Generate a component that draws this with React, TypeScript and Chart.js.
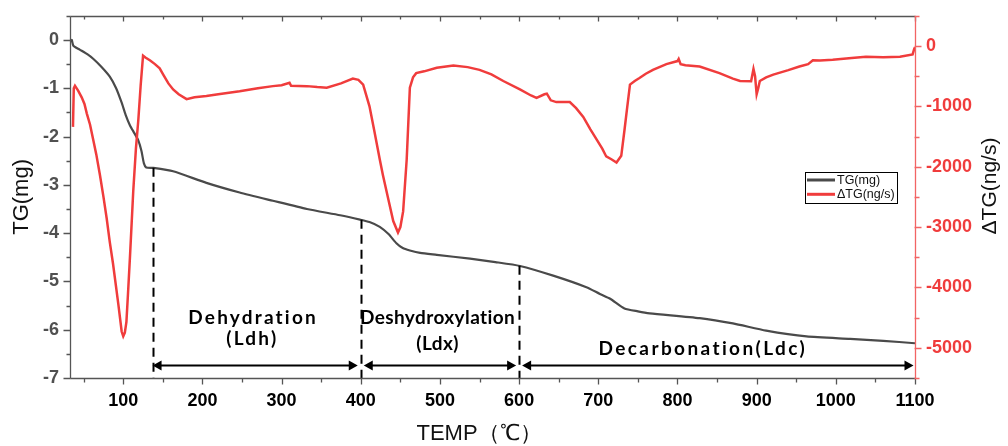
import React, { useEffect, useRef } from "react";
import { Chart, registerables } from "chart.js";

Chart.register(...registerables);

// ---------- data ----------
const tgTemp = [34, 35, 37, 45, 55, 62, 72, 83, 91, 98, 103, 108.5, 114, 119, 123, 126, 129, 138, 163, 205, 247, 289, 332, 374, 399, 411, 424, 435, 445, 453, 462, 475, 496, 538, 570, 601, 643, 685, 702, 715, 733, 750, 765, 828, 870, 912, 963, 1018, 1060, 1100];
const tgMass = [-0.05, 0.0, -0.12, -0.2, -0.3, -0.39, -0.55, -0.76, -1.0, -1.3, -1.55, -1.77, -1.93, -2.08, -2.3, -2.55, -2.64, -2.65, -2.72, -2.96, -3.16, -3.33, -3.5, -3.63, -3.72, -3.77, -3.87, -4.02, -4.21, -4.31, -4.36, -4.41, -4.45, -4.53, -4.6, -4.68, -4.88, -5.12, -5.26, -5.36, -5.56, -5.62, -5.66, -5.76, -5.87, -6.02, -6.14, -6.19, -6.23, -6.28];

const dtgTemp = [36.5, 37.5, 39, 43, 47.5, 51, 54, 58, 62, 66, 70.6, 75, 79, 83, 87, 91, 94, 98, 100, 102, 104, 106, 108.5, 112.6, 116, 119, 122, 125, 128, 134, 140, 146, 150.5, 157, 163, 170, 180, 190, 205, 220, 247, 270, 289, 300, 310, 312, 332, 345, 357, 375, 390, 397, 403, 411, 417, 424, 428, 435, 441, 447, 450, 453.5, 458, 462, 466, 470, 480, 496, 517, 535, 550, 565, 580, 601, 615, 622, 632, 635, 640, 647, 664, 672, 681, 690, 698, 705, 710, 717, 723, 729, 733, 736, 740, 746, 752, 760, 769, 786, 800, 801.5, 804, 810, 828, 853, 870, 879, 893, 896, 898, 900, 902, 904, 912, 921, 940, 954, 965, 971, 980, 996, 1020, 1038, 1060, 1081, 1097, 1099, 1100];
const dtgRate = [-1340, -700, -660, -740, -850, -960, -1120, -1300, -1550, -1800, -2140, -2500, -2850, -3250, -3600, -4000, -4300, -4730, -4810, -4750, -4570, -4100, -3490, -2410, -1700, -1230, -650, -160, -190, -240, -300, -370, -475, -620, -720, -800, -880, -850, -830, -800, -750, -700, -665, -650, -610, -660, -665, -680, -690, -620, -540, -560, -640, -1000, -1400, -1880, -2140, -2550, -2900, -3090, -3000, -2740, -1880, -690, -520, -450, -420, -360, -325, -350, -395, -470, -580, -720, -820, -860, -800, -790, -900, -930, -930, -1030, -1175, -1380, -1550, -1700, -1830, -1880, -1930, -1820, -1400, -1070, -640, -580, -530, -460, -395, -300, -250, -215, -300, -320, -340, -450, -540, -580, -585, -380, -500, -800, -700, -580, -520, -475, -400, -340, -300, -235, -240, -230, -200, -180, -185, -178, -140, -50, -20];

const xTickValues = [100, 200, 300, 400, 500, 600, 700, 800, 900, 1000, 1100];
const tgTickValues = [-7, -6, -5, -4, -3, -2, -1, 0];
const dtgTickValues = [-5000, -4000, -3000, -2000, -1000, 0];

const stageBounds = [137, 400, 600, 1100];
const stageNames = [["Dehydration", "(Ldh)"], ["Deshydroxylation", "(Ldx)"], ["Decarbonation(Ldc)"]];

const seriesNames = ["TG(mg)", "ΔTG(ng/s)"];

// ---------- styling / layout ----------
const GRAY = "#4a4a4a";
const RED = "#f03c3c";
const TICK_FONT = "'Liberation Sans', Arial, sans-serif";
const ANNOT_FONT = "Lato, 'Open Sans', sans-serif";

// label placement in data coordinates (x: temperature, y: TG axis value)
const stageTextLayout = [
  { lines: [{ x: 264, y: -5.89, sp: 2.2 }, { x: 263, y: -6.31, sp: 2.2 }] },
  { lines: [{ x: 497, y: -5.89, sp: 0.4 }, { x: 497, y: -6.42, sp: 0.4 }] },
  { lines: [{ x: 832, y: -6.52, sp: 2.4 }] },
];
const arrowLevel = -6.73;

function interp(xs: number[], ys: number[], t: number) {
  for (let i = 1; i < xs.length; i++) {
    if (t <= xs[i]) {
      const f = (t - xs[i - 1]) / (xs[i] - xs[i - 1]);
      return ys[i - 1] + f * (ys[i] - ys[i - 1]);
    }
  }
  return ys[ys.length - 1];
}

function arrowHead(ctx: CanvasRenderingContext2D, tipX: number, y: number, dir: number) {
  const len = 9, half = 5;
  ctx.beginPath();
  ctx.moveTo(tipX, y);
  ctx.lineTo(tipX - dir * len, y - half);
  ctx.lineTo(tipX - dir * len, y + half);
  ctx.closePath();
  ctx.fill();
}

const overlayPlugin = {
  id: "overlay",
  afterDatasetsDraw(chart: any) {
    const { ctx, chartArea: ca, scales } = chart;
    const xs = scales.x, yl = scales.yTG;
    ctx.save();
    // dashed boundaries
    ctx.strokeStyle = "#000";
    ctx.lineWidth = 2;
    ctx.setLineDash([9, 6]);
    for (let i = 0; i < 3; i++) {
      const t = stageBounds[i];
      const px = Math.round(xs.getPixelForValue(t)) + 0.5;
      const top = yl.getPixelForValue(interp(tgTemp, tgMass, t));
      ctx.beginPath();
      ctx.moveTo(px, top);
      ctx.lineTo(px, ca.bottom);
      ctx.stroke();
    }
    ctx.setLineDash([]);
    // arrows
    const ay = Math.round(yl.getPixelForValue(arrowLevel)) + 0.5;
    ctx.fillStyle = "#000";
    for (let i = 0; i < 3; i++) {
      const a = xs.getPixelForValue(stageBounds[i]) + (i === 0 ? 0 : 3);
      const b = xs.getPixelForValue(stageBounds[i + 1]) - (i === 2 ? 1.5 : 3);
      ctx.beginPath();
      ctx.moveTo(a + 4, ay);
      ctx.lineTo(b - 4, ay);
      ctx.stroke();
      arrowHead(ctx, a, ay, -1);
      arrowHead(ctx, b, ay, 1);
    }
    // stage labels
    ctx.font = `bold 19px ${ANNOT_FONT}`;
    ctx.textAlign = "center";
    ctx.textBaseline = "alphabetic";
    stageNames.forEach((lines, i) => {
      lines.forEach((txt, j) => {
        const p = stageTextLayout[i].lines[j];
        (ctx as any).letterSpacing = `${p.sp}px`;
        ctx.fillText(txt, xs.getPixelForValue(p.x), yl.getPixelForValue(p.y));
      });
    });
    (ctx as any).letterSpacing = "0px";
    ctx.restore();
  },
  afterDraw(chart: any) {
    const { ctx, chartArea: ca, scales } = chart;
    const xs = scales.x, yl = scales.yTG, yr = scales.yDTG;
    const L = Math.round(ca.left) - 0.5, R = Math.round(ca.right) + 0.5;
    const T = Math.round(ca.top) + 0.5, B = Math.round(ca.bottom) + 0.5;
    ctx.save();
    ctx.lineWidth = 1.3;
    // frame (top, left, bottom) gray
    ctx.strokeStyle = "#555";
    ctx.beginPath();
    ctx.moveTo(L, T); ctx.lineTo(R, T);
    ctx.moveTo(L, T); ctx.lineTo(L, B);
    ctx.moveTo(L, B); ctx.lineTo(R, B);
    ctx.stroke();
    // x ticks (bottom outward, top inward)
    ctx.beginPath();
    for (let v = 50; v <= 1100; v += 50) {
      const major = v % 100 === 0;
      const px = Math.round(xs.getPixelForValue(v)) + 0.5;
      if (px < L || px > R + 1) continue;
      ctx.moveTo(px, B); ctx.lineTo(px, B + (major ? 6 : 4));
      ctx.moveTo(px, T); ctx.lineTo(px, T + (major ? 5 : 3));
    }
    // left ticks outward
    for (let v = -7; v <= 0.5; v += 0.5) {
      const major = Number.isInteger(v);
      const py = Math.round(yl.getPixelForValue(v)) + 0.5;
      ctx.moveTo(L, py); ctx.lineTo(L - (major ? 7 : 4), py);
    }
    ctx.stroke();
    // right axis red
    ctx.strokeStyle = "#f26464";
    ctx.beginPath();
    ctx.moveTo(R, T); ctx.lineTo(R, B);
    for (let v = -5500; v <= 500; v += 500) {
      const major = v % 1000 === 0;
      const py = Math.round(yr.getPixelForValue(v)) + 0.5;
      ctx.moveTo(R - 1, py); ctx.lineTo(R + (major ? 6 : 4), py);
    }
    ctx.stroke();

    // axis titles
    ctx.fillStyle = "#111";
    ctx.font = `22px ${TICK_FONT}`;
    ctx.textAlign = "center";
    ctx.textBaseline = "middle";
    ctx.save();
    ctx.translate(22, (ca.top + ca.bottom) / 2);
    ctx.rotate(-Math.PI / 2);
    ctx.fillText("TG(mg)", 0, 0);
    ctx.restore();
    ctx.save();
    ctx.font = `21px ${TICK_FONT}`;
    ctx.translate(990, 186);
    ctx.rotate(-Math.PI / 2);
    ctx.fillText("ΔTG(ng/s)", 0, 0);
    ctx.restore();
    ctx.textBaseline = "alphabetic";
    ctx.fillText("TEMP（℃）", 479, 440);

    // legend
    const lx = 805.5, ly = 172.5, lw = 92, lh = 31;
    ctx.fillStyle = "#fff";
    ctx.fillRect(lx, ly, lw, lh);
    ctx.strokeStyle = "#000";
    ctx.lineWidth = 1;
    ctx.strokeRect(lx, ly, lw, lh);
    const colors = [GRAY, RED];
    ctx.font = `12.5px ${TICK_FONT}`;
    ctx.textAlign = "left";
    ctx.textBaseline = "middle";
    seriesNames.forEach((name, i) => {
      const yy = 180 + i * 14.3;
      ctx.strokeStyle = colors[i];
      ctx.lineWidth = 3;
      ctx.beginPath();
      ctx.moveTo(807, yy); ctx.lineTo(835, yy);
      ctx.stroke();
      ctx.fillStyle = "#111";
      ctx.fillText(name, 837, yy + 0.5);
    });
    ctx.restore();
  },
};

const tickFont = { family: TICK_FONT, size: 18, weight: "bold" };
const plain = (v: any) => String(v);

export default function App() {
  const ref = useRef<HTMLCanvasElement | null>(null);
  useEffect(() => {
    if (!ref.current) return;
    const gridCfg = { display: true, drawOnChartArea: false, drawTicks: true, color: "rgba(0,0,0,0)" };
    const chart = new Chart(ref.current, {
      type: "line",
      data: {
        datasets: [
          {
            label: seriesNames[1],
            data: dtgTemp.map((t, i) => ({ x: t, y: dtgRate[i] })),
            yAxisID: "yDTG",
            borderColor: RED,
            borderWidth: 2.5,
            pointRadius: 0,
            tension: 0,
            order: 0,
          },
          {
            label: seriesNames[0],
            data: tgTemp.map((t, i) => ({ x: t, y: tgMass[i] })),
            yAxisID: "yTG",
            borderColor: GRAY,
            borderWidth: 2.2,
            pointRadius: 0,
            tension: 0.2,
            order: 1,
          },
        ],
      },
      options: {
        responsive: false,
        animation: false,
        devicePixelRatio: 1,
        layout: { padding: { top: 7, left: 0, right: 0, bottom: 0 } },
        plugins: { legend: { display: false }, tooltip: { enabled: false } },
        scales: {
          x: {
            type: "linear",
            min: 34,
            max: 1100,
            grid: { ...gridCfg, tickLength: 6 },
            border: { display: false },
            afterBuildTicks: (s: any) => { s.ticks = xTickValues.map((v) => ({ value: v })); },
            afterFit: (s: any) => { s.height = 68; },
            ticks: { autoSkip: false, maxRotation: 0, padding: 6, color: "#000", font: tickFont, callback: plain },
          },
          yTG: {
            type: "linear",
            position: "left",
            min: -7,
            max: 0.5,
            grid: { ...gridCfg, tickLength: 7 },
            border: { display: false },
            afterBuildTicks: (s: any) => { s.ticks = tgTickValues.map((v) => ({ value: v })); },
            afterFit: (s: any) => { s.width = 71; },
            ticks: { autoSkip: false, padding: 5, color: "#505050", font: tickFont, callback: plain },
          },
          yDTG: {
            type: "linear",
            position: "right",
            min: -5500,
            max: 500,
            grid: { ...gridCfg, tickLength: 6 },
            border: { display: false },
            afterBuildTicks: (s: any) => { s.ticks = dtgTickValues.map((v) => ({ value: v })); },
            afterFit: (s: any) => { s.width = 93; },
            ticks: { autoSkip: false, padding: 5, color: RED, font: tickFont, callback: plain },
          },
        },
      },
      plugins: [overlayPlugin],
    } as any);
    return () => chart.destroy();
  }, []);
  return (
    <div style={{ position: "fixed", left: 0, top: 0, width: 1008, height: 446, background: "#fff" }}>
      <canvas ref={ref} width={1008} height={446} style={{ display: "block" }} />
    </div>
  );
}
